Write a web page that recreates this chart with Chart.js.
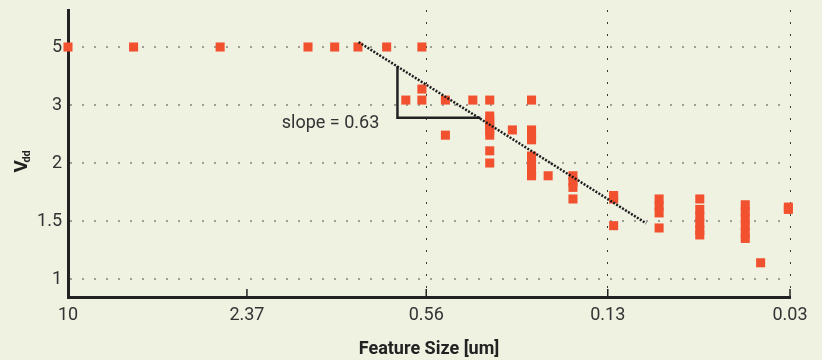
<!DOCTYPE html>
<html>
<head>
<meta charset="utf-8">
<script src="https://cdn.jsdelivr.net/npm/chart.js@4.4.1/dist/chart.umd.min.js"></script>
<style>
  html, body { margin: 0; padding: 0; background: #eff1e1; }
  canvas { display: block; }
</style>
</head>
<body>
<canvas id="grafico" width="822" height="360"></canvas>
<script>
// Tamanho da feature [um] e Vdd de cada ponto
const featureSize = [10, 5.9, 2.94, 1.45, 1.17, 0.97, 0.77, 0.58,
  0.58, 0.66, 0.58, 0.48, 0.385, 0.336, 0.24, 0.48,
  0.336, 0.336, 0.336, 0.336, 0.336, 0.336, 0.336, 0.28,
  0.24, 0.24, 0.24, 0.24, 0.24, 0.24, 0.24, 0.21,
  0.172, 0.172, 0.172, 0.172, 0.124, 0.124, 0.124,
  0.086, 0.086, 0.086, 0.086,
  0.062, 0.062, 0.062, 0.062, 0.062, 0.062,
  0.043, 0.043, 0.043, 0.043, 0.043, 0.043, 0.038, 0.0304, 0.0304];
const vdd = [5, 5, 5, 5, 5, 5, 5, 5,
  3.55, 3.17, 3.17, 3.17, 3.17, 3.17, 3.17, 2.48,
  2.81, 2.72, 2.65, 2.57, 2.48, 2.21, 2.0, 2.57,
  2.57, 2.48, 2.40, 2.12, 1.99, 1.92, 1.89, 1.89,
  1.89, 1.84, 1.79, 1.69, 1.72, 1.69, 1.46,
  1.69, 1.63, 1.57, 1.44,
  1.69, 1.60, 1.54, 1.48, 1.42, 1.38,
  1.64, 1.58, 1.52, 1.46, 1.40, 1.35, 1.14, 1.62, 1.60];

const xTickVals = [10, 2.37, 0.56, 0.13, 0.03];
const xTickLabels = ['10', '2.37', '0.56', '0.13', '0.03'];
const xGridVals = [0.56, 0.13, 0.03];
const yTickVals = [1, 1.5, 2, 3, 5];
const yTickLabels = ['1', '1.5', '2', '3', '5'];

// reta de tendencia e triangulo da inclinacao
const slopeX = [0.965, 0.0954];
const slopeY = [5.17, 1.48];
const triX = [0.706, 0.706, 0.362];
const triY = [4.34, 2.78, 2.78];
const slopeLabel = 'slope = 0.63';
const slopeLabelAt = [1.79, 2.60];

// eixo Y tem espaçamento igual entre os rótulos 1, 1.5, 2, 3, 5
function vddToAxis(v) {
  const n = yTickVals.length;
  for (let i = 0; i < n - 1; i++) {
    if (v <= yTickVals[i + 1] || i === n - 2) {
      return i + (v - yTickVals[i]) / (yTickVals[i + 1] - yTickVals[i]);
    }
  }
}
const toPts = (xs, ys) => xs.map((x, i) => ({ x: x, y: vddToAxis(ys[i]) }));

const extras = {
  id: 'extras',
  afterDatasetsDraw(chart) {
    const { ctx, chartArea, scales: { x, y } } = chart;
    ctx.save();
    // ticks para dentro no eixo X
    ctx.strokeStyle = '#222';
    ctx.lineWidth = 1.5;
    xTickVals.slice(1).forEach(v => {
      const px = x.getPixelForValue(v);
      ctx.beginPath();
      ctx.moveTo(px, chartArea.bottom);
      ctx.lineTo(px, chartArea.bottom - 8);
      ctx.stroke();
    });
    // texto da inclinacao
    ctx.fillStyle = '#333';
    ctx.font = '18px Roboto';
    ctx.textAlign = 'left';
    ctx.textBaseline = 'alphabetic';
    ctx.fillText(slopeLabel, x.getPixelForValue(slopeLabelAt[0]), y.getPixelForValue(vddToAxis(slopeLabelAt[1])));
    // titulo do eixo Y: V com subscrito dd
    ctx.translate(chartArea.left - 41, (chartArea.top + chartArea.bottom) / 2 + 19);
    ctx.rotate(-Math.PI / 2);
    ctx.fillStyle = '#222';
    ctx.font = 'bold 19px Roboto';
    ctx.fillText('V', 0, 0);
    const w = ctx.measureText('V').width;
    ctx.font = 'bold 11px Roboto';
    ctx.fillText('dd', w - 2.5, 3);
    ctx.restore();
  }
};

Chart.defaults.font.family = 'Roboto';

const ctx = document.getElementById('grafico').getContext('2d');
const grafico = new Chart(ctx, {
  type: 'scatter',
  data: {
    datasets: [
      {
        label: 'slope',
        data: toPts(slopeX, slopeY),
        showLine: true,
        borderColor: '#1c1c1c',
        borderWidth: 2.5,
        borderDash: [2, 1.5],
        pointRadius: 0,
        clip: false,
        order: 1
      },
      {
        label: 'triangle',
        data: toPts(triX, triY),
        showLine: true,
        borderColor: '#222',
        borderWidth: 2.5,
        pointRadius: 0,
        clip: false,
        order: 2
      },
      {
        label: 'Vdd',
        data: toPts(featureSize, vdd),
        pointStyle: 'rect',
        pointRadius: 6.4,
        pointHoverRadius: 6.4,
        backgroundColor: '#f2512f',
        borderWidth: 0,
        clip: false,
        order: 3
      }
    ]
  },
  options: {
    responsive: false,
    animation: false,
    devicePixelRatio: 1,
    layout: { padding: { left: 0, right: 32, top: 10, bottom: 0 } },
    plugins: { legend: { display: false }, tooltip: { enabled: false } },
    scales: {
      x: {
        type: 'logarithmic',
        reverse: true,
        min: 0.03,
        max: 10,
        afterBuildTicks: s => { s.ticks = xTickVals.map(v => ({ value: v })); },
        afterFit: s => { s.height = 63; s.paddingLeft = 0; s.paddingRight = 0; },
        ticks: {
          callback: (v, i) => xTickLabels[i],
          color: '#333',
          font: { size: 18 },
          padding: 8,
          maxRotation: 0,
          autoSkip: false
        },
        grid: {
          drawTicks: false,
          lineWidth: 1,
          color: c => (c.tick && xGridVals.includes(c.tick.value)) ? '#3a3a3a' : 'transparent'
        },
        border: { display: true, color: '#222', width: 3, dash: [2, 10] },
        title: {
          display: true,
          text: 'Feature Size [um]',
          color: '#222',
          font: { size: 18, weight: 'bold' },
          padding: 0
        }
      },
      y: {
        type: 'linear',
        min: -0.31,
        max: 4.638,
        afterBuildTicks: s => { s.ticks = yTickVals.map((v, i) => ({ value: i })); },
        afterFit: s => { s.width = 68; s.paddingTop = 0; s.paddingBottom = 0; },
        ticks: {
          callback: (v, i) => yTickLabels[i],
          color: '#333',
          font: { size: 18 },
          padding: 6,
          autoSkip: false
        },
        grid: { drawTicks: false, lineWidth: 2, color: '#9d9e94' },
        border: { display: true, color: '#222', width: 3, dash: [2, 10] }
      }
    }
  },
  plugins: [extras]
});
</script>
</body>
</html>
